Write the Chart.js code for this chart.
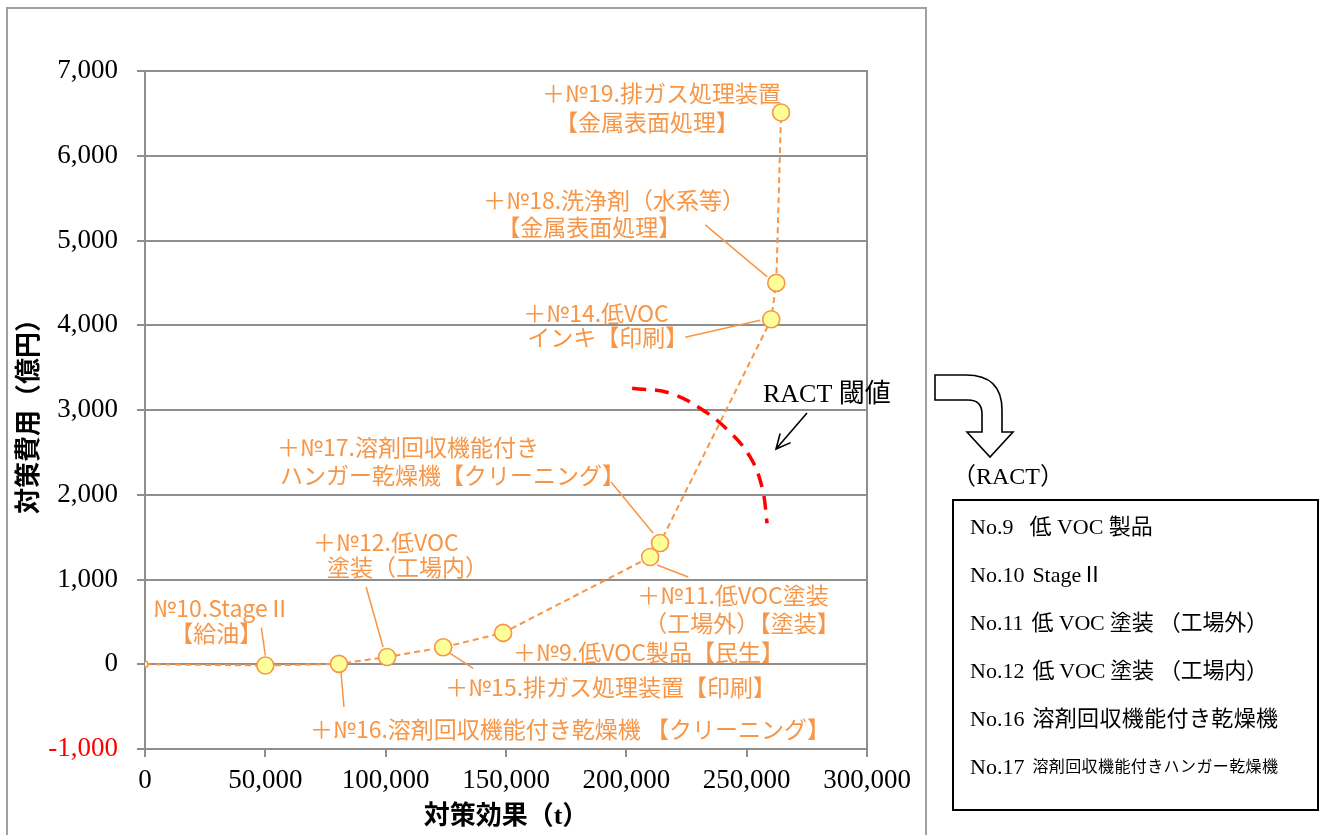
<!DOCTYPE html>
<html>
<head>
<meta charset="utf-8">
<title>対策費用と対策効果</title>
<script src="https://cdn.jsdelivr.net/npm/chart.js@4/dist/chart.umd.min.js"></script>
<style>
  html, body { margin: 0; padding: 0; background: #ffffff; overflow: hidden; }
  #wrap { width: 1321px; height: 835px; position: relative; }
  canvas { display: block; }
</style>
</head>
<body>
<div id="wrap"><canvas id="c" width="1321" height="835"></canvas></div>
<script>
// ---- data -------------------------------------------------------------
const measureIds = ['', 'No.10', 'No.16', 'No.12', 'No.15', 'No.9', 'No.11', 'No.17', 'No.14', 'No.18', 'No.19'];
const effectT   = [0, 50000, 80600, 100600, 123900, 148800, 209900, 214000, 260200, 262300, 264300];
const costOku   = [0, -15, 5, 85, 200, 370, 1265, 1430, 4070, 4500, 6510];
const pointLabels = [
  [],
  ['№10.StageⅡ', '【給油】'],
  ['＋№16.溶剤回収機能付き乾燥機 【クリーニング】'],
  ['＋№12.低VOC', '塗装（工場内）'],
  ['＋№15.排ガス処理装置【印刷】'],
  ['＋№9.低VOC製品【民生】'],
  ['＋№11.低VOC塗装', '（工場外）【塗装】'],
  ['＋№17.溶剤回収機能付き', 'ハンガー乾燥機【クリーニング】'],
  ['＋№14.低VOC', 'インキ【印刷】'],
  ['＋№18.洗浄剤（水系等）', '【金属表面処理】'],
  ['＋№19.排ガス処理装置', '【金属表面処理】']
];
// RACT threshold curve
const ractEffect = [202400, 218200, 231900, 243100, 251500, 256400, 258500];
const ractCost   = [3257, 3198, 2997, 2737, 2443, 2088, 1664];
// axis ticks
const xTickValues = [0, 50000, 100000, 150000, 200000, 250000, 300000];
const yTickValues = [-1000, 0, 1000, 2000, 3000, 4000, 5000, 6000, 7000];
// RACT list (id, description)
const ractIds   = ['No.9', 'No.10', 'No.11', 'No.12', 'No.16', 'No.17'];
const ractNames = ['低 VOC 製品', 'StageⅡ', '低 VOC 塗装 （工場外）', '低 VOC 塗装 （工場内）', '溶剤回収機能付き乾燥機', '溶剤回収機能付きハンガー乾燥機'];

// ---- styling ----------------------------------------------------------
const ORANGE = '#F79646';
const GRID = '#8E8E8E';
const LABEL_FONT = "23px 'Noto Sans CJK JP', sans-serif";
const SERIF = "'Liberation Serif', 'Noto Sans CJK JP', serif";

// label placement: pixel offsets from each point (text line left/middle, leader start/end)
const labelLayout = [
  null,
  { lines: [[-112, -57], [-95, -32]], leader: [[-4, -38], [0, -10]] },
  { lines: [[-29, 65]], leader: [[2, 8], [5, 43]] },
  { lines: [[-74, -115], [-60, -90]], leader: [[-21, -70], [-4, -10]] },
  { lines: [[2, 40]], leader: [[7, 6], [30, 21]] },
  { lines: [[10, 19]], leader: null },
  { lines: [[-13, 38], [-6, 66]], leader: [[7, 8], [38, 20]] },
  { lines: [[-383, -96], [-380, -68]], leader: [[-49, -61], [-7, -10]] },
  { lines: [[-248, -6], [-244, 18]], leader: [[-86, 18], [-11, 1]] },
  { lines: [[-293, -83], [-279, -56]], leader: [[-71, -58], [-9, -6]] },
  { lines: [[-239, -19], [-226, 10]], leader: null }
];
// spread widths for the RACT list descriptions (end x of each line, font size)
const ractListStyle = [
  { end: null, size: 22 },
  { end: null, size: 22 },
  { end: 1268, size: 22 },
  { end: 1268, size: 22 },
  { end: 1278, size: 22 },
  { end: 1278, size: 16 }
];

const fmt = v => Number(v).toLocaleString('en-US');

function drawSpread(ctx, text, x, y, endX) {
  const chars = [...text];
  if (endX == null) { ctx.fillText(text, x, y); return; }
  const widths = chars.map(c => ctx.measureText(c).width);
  const total = widths.reduce((a, b) => a + b, 0);
  const gap = chars.length > 1 ? (endX - x - total) / (chars.length - 1) : 0;
  let cx = x;
  chars.forEach((c, i) => { ctx.fillText(c, cx, y); cx += widths[i] + gap; });
}

const decor = {
  id: 'decor',
  beforeDraw(chart) {
    const ctx = chart.ctx;
    ctx.save();
    ctx.fillStyle = '#ffffff';
    ctx.fillRect(0, 0, chart.width, chart.height);
    // outer chart frame
    ctx.strokeStyle = '#A0A0A0';
    ctx.lineWidth = 2;
    ctx.strokeRect(7, 8, 919, 860);
    ctx.restore();
  },
  beforeDatasetsDraw(chart) {
    const { ctx, chartArea: a } = chart;
    ctx.save();
    ctx.strokeStyle = GRID;
    ctx.lineWidth = 2;
    ctx.beginPath();
    ctx.moveTo(a.right, a.top - 1);
    ctx.lineTo(a.right, a.bottom);
    ctx.stroke();
    ctx.restore();
  },
  afterDatasetsDraw(chart) {
    const { ctx, scales: { x, y } } = chart;
    ctx.save();
    // leader lines and point labels
    ctx.strokeStyle = ORANGE;
    ctx.fillStyle = ORANGE;
    ctx.lineWidth = 1.5;
    ctx.font = LABEL_FONT;
    ctx.textAlign = 'left';
    ctx.textBaseline = 'middle';
    pointLabels.forEach((lines, i) => {
      const lay = labelLayout[i];
      if (!lay || !lines.length) return;
      const px = x.getPixelForValue(effectT[i]);
      const py = y.getPixelForValue(costOku[i]);
      if (lay.leader) {
        ctx.beginPath();
        ctx.moveTo(px + lay.leader[0][0], py + lay.leader[0][1]);
        ctx.lineTo(px + lay.leader[1][0], py + lay.leader[1][1]);
        ctx.stroke();
      }
      lines.forEach((t, k) => ctx.fillText(t, px + lay.lines[k][0], py + lay.lines[k][1]));
    });

    // RACT threshold caption and pointer
    ctx.fillStyle = '#000';
    ctx.strokeStyle = '#000';
    ctx.font = "26px " + SERIF;
    ctx.fillText('RACT 閾値', 763, 395);
    const x0 = 807, y0 = 413, x1 = 776, y1 = 449;
    ctx.lineWidth = 1.6;
    ctx.beginPath();
    ctx.moveTo(x0, y0); ctx.lineTo(x1, y1);
    const ang = Math.atan2(y1 - y0, x1 - x0);
    const hl = 16, ha = 0.45;
    ctx.moveTo(x1 - hl * Math.cos(ang - ha), y1 - hl * Math.sin(ang - ha));
    ctx.lineTo(x1, y1);
    ctx.lineTo(x1 - hl * Math.cos(ang + ha), y1 - hl * Math.sin(ang + ha));
    ctx.stroke();
    ctx.restore();
  },
  afterDraw(chart) {
    const ctx = chart.ctx;
    ctx.save();
    // hollow bent arrow
    ctx.strokeStyle = '#000';
    ctx.fillStyle = '#fff';
    ctx.lineWidth = 1.6;
    ctx.beginPath();
    ctx.moveTo(935, 375);
    ctx.lineTo(966, 375);
    ctx.quadraticCurveTo(1002, 375, 1002, 410);
    ctx.lineTo(1002, 432);
    ctx.lineTo(1013, 432);
    ctx.lineTo(990, 457);
    ctx.lineTo(967, 432);
    ctx.lineTo(982, 432);
    ctx.lineTo(982, 414);
    ctx.quadraticCurveTo(982, 400, 968, 400);
    ctx.lineTo(935, 400);
    ctx.closePath();
    ctx.fill();
    ctx.stroke();

    ctx.fillStyle = '#000';
    ctx.textAlign = 'left';
    ctx.textBaseline = 'middle';
    ctx.font = "24px " + SERIF;
    ctx.fillText('（RACT）', 952, 478);

    // RACT list box
    ctx.lineWidth = 2;
    ctx.strokeRect(953, 500, 365, 310);
    ractIds.forEach((id, i) => {
      const yy = 528 + i * 48;
      ctx.font = "22px 'Liberation Serif', serif";
      ctx.fillText(id, 970, yy);
      const st = ractListStyle[i];
      const startX = 970 + ctx.measureText(id).width + (i === 0 ? 16 : 8);
      ctx.font = st.size + "px " + SERIF;
      drawSpread(ctx, ractNames[i], startX, yy, st.end);
    });
    ctx.restore();
  }
};

new Chart(document.getElementById('c'), {
  type: 'scatter',
  data: {
    datasets: [
      {
        label: '対策',
        data: effectT.map((v, i) => ({ x: v, y: costOku[i] })),
        showLine: true,
        borderColor: ORANGE,
        borderWidth: 2,
        borderDash: [6, 4],
        pointBackgroundColor: '#FFFF99',
        pointBorderColor: ORANGE,
        pointBorderWidth: 1.6,
        pointRadius: c => (c.dataIndex === 0 ? 3 : 8.5),
        order: 0
      },
      {
        label: 'RACT 閾値',
        data: ractEffect.map((v, i) => ({ x: v, y: ractCost[i] })),
        showLine: true,
        borderColor: '#FF0000',
        borderWidth: 3.5,
        borderDash: [14, 9],
        pointRadius: 0,
        tension: 0.4,
        order: 1
      }
    ]
  },
  options: {
    responsive: false,
    animation: false,
    layout: { padding: { left: 0, top: 71, right: 454, bottom: 0 } },
    plugins: { legend: { display: false }, tooltip: { enabled: false } },
    scales: {
      x: {
        type: 'linear',
        min: 0, max: 300000,
        afterBuildTicks: s => { s.ticks = xTickValues.map(v => ({ value: v })); },
        afterFit: s => { s.height = 86; },
        ticks: {
          callback: v => fmt(v),
          font: { family: "'Liberation Serif', serif", size: 27 },
          color: '#000',
          padding: 8,
          maxRotation: 0,
          autoSkip: false
        },
        grid: { drawOnChartArea: false, color: GRID, lineWidth: 2, tickLength: 8 },
        border: { color: GRID, width: 2 },
        title: {
          display: true,
          text: '対策効果（t）',
          font: { family: SERIF, size: 26, weight: 'bold' },
          color: '#000',
          padding: { top: 0, bottom: 2 }
        }
      },
      y: {
        type: 'linear',
        min: -1000, max: 7000,
        afterBuildTicks: s => { s.ticks = yTickValues.map(v => ({ value: v })); },
        afterFit: s => { s.width = 145; },
        ticks: {
          callback: v => fmt(v),
          font: { family: "'Liberation Serif', serif", size: 27 },
          color: c => (c.tick && c.tick.value < 0 ? '#FF0000' : '#000000'),
          padding: 19,
          autoSkip: false
        },
        grid: { color: GRID, lineWidth: 2, tickLength: 8 },
        border: { color: GRID, width: 2 },
        title: {
          display: true,
          text: '対策費用（億円）',
          font: { family: "'Noto Sans CJK JP', sans-serif", size: 26, weight: 'bold' },
          color: '#000',
          padding: { top: 12, bottom: 0 }
        }
      }
    }
  },
  plugins: [decor]
});
</script>
</body>
</html>
